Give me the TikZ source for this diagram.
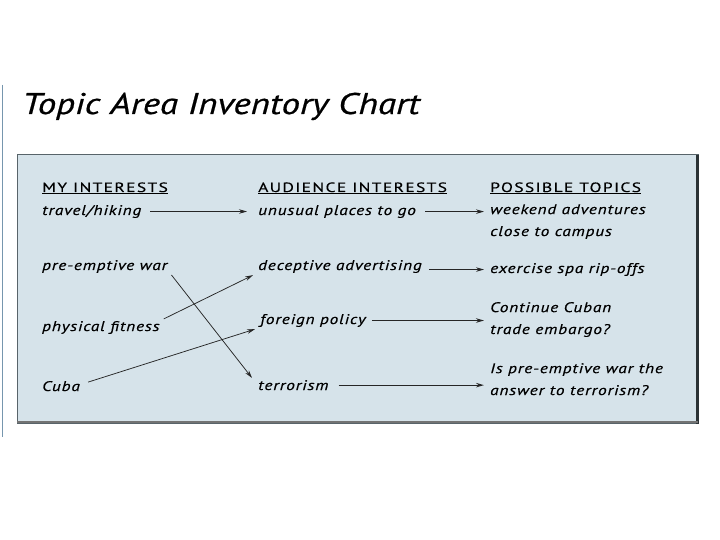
\documentclass[tikz,border=0pt]{standalone}
\usepackage{fontspec}
\setmainfont{PT Sans}
\newfontfamily\titlefont[FakeStretch=1.24,FakeBold=0.6]{PT Sans}
\newfontfamily\headfont[FakeStretch=1.3,LetterSpace=10,FakeBold=0.3]{PT Sans}
\newfontfamily\handfont[FakeStretch=1.24,LetterSpace=6,FakeBold=0.4]{PT Sans}
\usepackage{tikz}
\usetikzlibrary{arrows.meta,calc}
\definecolor{chartfill}{RGB}{214,227,234}
\definecolor{chartedge}{RGB}{88,100,106}
\definecolor{chartshade}{RGB}{43,50,53}
\definecolor{sidebar}{RGB}{118,150,174}
\tikzset{
	entry/.style={anchor=base west, inner sep=2pt, font=\handfont\itshape\fontsize{14}{22}\selectfont, align=left},
	colhead/.style={anchor=base west, inner sep=2pt, font=\headfont\fontsize{13.5}{16}\selectfont},
	link/.style={-{Stealth[length=8pt,width=4.5pt]}, line width=0.75pt, color=black!85},
	boldlink/.style={link, line width=1.3pt}
}

\begin{document}
\begin{tikzpicture}[x=1bp, y=-1bp]
			%%%%% START %%%%%
			\useasboundingbox[fill=white] (0, 0) rectangle (720, 540);
			
			\draw[line width=1.5bp, color=sidebar] (2.5, 85) -- (2.5, 437);
			
			\node[anchor=base west, inner sep=0pt, font=\titlefont\itshape\fontsize{30}{34}\selectfont] (title) at (22, 114) {Topic Area Inventory Chart};
			
			\draw[fill=chartfill, draw=chartedge, line width=1bp] (17, 155) rectangle (698, 423);
			\draw[line width=3bp, color=chartshade] (697, 155) -- (697, 424);
			\draw[line width=2.5bp, color=black!55] (17, 422) -- (698, 422);
			
			% column heads
			\node[colhead] (mine) at (40, 192) {\underline{MY INTERESTS}};
			\node[colhead] (audience) at (256, 192) {\underline{AUDIENCE INTERESTS}};
			\node[colhead] (possible) at (488, 192) {\underline{POSSIBLE TOPICS}};
			
			% my interests
			\node[entry] (travel) at (40, 215) {travel/hiking};
			\node[entry] (war) at (40, 270) {pre-emptive war};
			\node[entry] (fitness) at (40, 331) {physical fitness};
			\node[entry] (cuba) at (40, 391) {Cuba};
			
			% audience interests
			\node[entry] (places) at (256, 215) {unusual places to go};
			\node[entry] (deceptive) at (256, 270) {deceptive advertising};
			\node[entry] (foreign) at (258, 324) {foreign policy};
			\node[entry] (terror) at (256, 390) {terrorism};
			
			% possible topics (two-line nodes sit on their last line)
			\node[entry] (weekend) at (488, 236) {weekend adventures\\close to campus};
			\node[entry] (spa) at (488, 273) {exercise spa rip-offs};
			\node[entry] (embargo) at (488, 334) {Continue Cuban\\trade embargo?};
			\node[entry] (preempt) at (488, 395) {Is pre-emptive war the\\answer to terrorism?};
			
			% connectors
			\draw[link] ($(travel.east)+(7, 0)$) -- ($(places.west |- travel.east)+(-9, 0)$);
			\draw[link] ($(places.east)+(7, 0)$) -- ($(places.east -| weekend.west)+(-4, 0)$);
			\draw[link] ($(deceptive.east)+(5, 3)$) -- ($(deceptive.east -| spa.west)+(-4, 3)$);
			\draw[boldlink] ($(foreign.east)+(4, 0)$) -- ($(foreign.east -| embargo.west)+(-4, 0)$);
			\draw[boldlink] ($(terror.east)+(8, 0)$) -- ($(terror.east -| preempt.west)+(-4, 0)$);
			
			\draw[link] ($(war.south east)+(2, 0)$) -- ($(terror.north west)+(-4, 0)$);
			\draw[link] ($(fitness.north east)+(2, 0)$) -- ($(deceptive.south west)+(-3, 0)$);
			\draw[link] ($(cuba.east)+(6, -4)$) -- ($(foreign.south west)+(-3, 0)$);
			
			%%%%% END %%%%%
\end{tikzpicture}
\end{document}
